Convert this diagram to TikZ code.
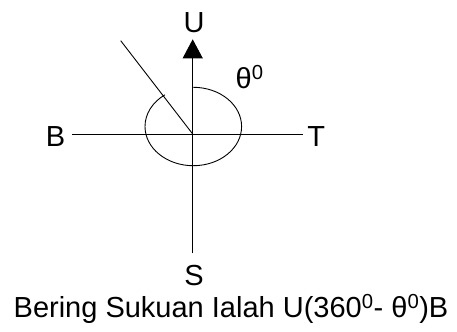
\documentclass[tikz,border=0pt]{standalone}
\usepackage{fontspec}
\setmainfont{Liberation Sans}
\usetikzlibrary{arrows.meta}
\tikzset{
  paksi/.style={black,line width=0.9pt},
  anak/.style={-{Triangle[length=19bp,width=20bp]},black,line width=0.9pt},
  huruf/.style={inner sep=0pt,font=\fontsize{29bp}{34bp}\selectfont},
}
\begin{document}
\begin{tikzpicture}[x=1bp,y=-1bp]
  \useasboundingbox (0,0) rectangle (457,331);
  % ===== titik =====
  \coordinate (O) at (192.7,134);
  \coordinate (kiri) at (72.3,134);
  \coordinate (kanan) at (303.3,134);
  \coordinate (atas) at (192.7,39.3);
  \coordinate (bawah) at (192.7,253.3);
  \coordinate (hujung) at (120.7,40.7);
  \coordinate (puncak) at (193.3,87.3);
  % ===== arah mata angin =====
  \node[huruf] (U) at (194,22.5) {U};
  \node[huruf] (S) at (194,275.5) {S};
  \node[huruf] (B) at (55.5,136.2) {B};
  \node[huruf] (T) at (316.3,136.2) {T};
  \draw[paksi] (kiri)--(kanan);
  \draw[anak] (bawah)--(atas);
  \draw[paksi] (O)--(hujung);
  % sudut theta
  \draw[paksi] (puncak) arc[start angle=-90,end angle=234,x radius=48.3,y radius=39.2];
  \node[huruf,anchor=base west] (sudut) at (235.5,88) {θ\textsuperscript{0}};
  % ===== tajuk =====
  \node[huruf,anchor=base] (tajuk) at (231,317) {Bering Sukuan Ialah U(360\textsuperscript{0}- θ\textsuperscript{0})B};
\end{tikzpicture}
\end{document}
